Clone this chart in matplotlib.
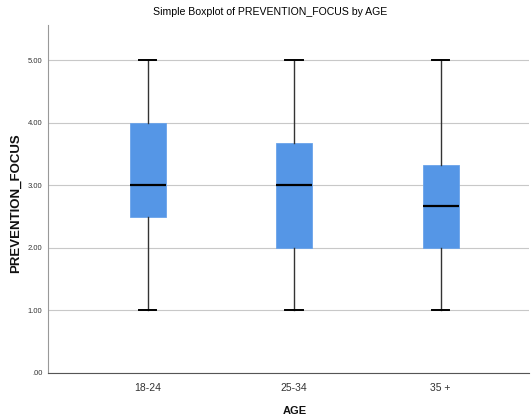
import matplotlib.pyplot as plt
from matplotlib import font_manager

# data
groups = ['18-24', '25-34', '35 +']
whislo = [1.0, 1.0, 1.0]
q1 = [2.5, 2.0, 2.0]
med = [3.0, 3.0, 2.67]
q3 = [4.0, 3.67, 3.33]
whishi = [5.0, 5.0, 5.0]
yticks = [0, 1, 2, 3, 4, 5]
ytick_labels = ['.00', '1.00', '2.00', '3.00', '4.00', '5.00']

names = {f.name for f in font_manager.fontManager.ttflist}
narrow = 'Liberation Sans Narrow' if 'Liberation Sans Narrow' in names else 'Liberation Sans'
plt.rcParams['font.family'] = [narrow, 'DejaVu Sans']

W, H = 531, 419
fig = plt.figure(figsize=(W / 100, H / 100), dpi=100)
ax = fig.add_axes([0.0904, 0.110, 0.905, 0.830])

stats = []
for i, g in enumerate(groups):
    stats.append(dict(label=g, whislo=whislo[i], q1=q1[i], med=med[i],
                      q3=q3[i], whishi=whishi[i], fliers=[]))

ax.bxp(stats, positions=range(len(groups)), widths=0.245, patch_artist=True,
       showfliers=False,
       boxprops=dict(facecolor='#5596e6', edgecolor='#6aa3ea', linewidth=0.6),
       medianprops=dict(color='black', linewidth=1.6),
       whiskerprops=dict(color='#333333', linewidth=1.0),
       capprops=dict(color='black', linewidth=1.4),
       capwidths=0.12)

ax.set_xlim(-0.68, 2.6)
ax.set_ylim(0, 5.56)
ax.set_yticks(yticks)
ax.set_yticklabels(ytick_labels, fontsize=5.5)
ax.set_xticks(range(len(groups)))
ax.set_xticklabels(groups, fontsize=7.5)
ax.tick_params(axis='both', length=0, colors='#333333')
ax.tick_params(axis='y', pad=4)
ax.tick_params(axis='x', pad=7)

ax.yaxis.grid(True, color='#c8c8c8', linewidth=0.8)
ax.set_axisbelow(True)
for s in ['top', 'right']:
    ax.spines[s].set_visible(False)
ax.spines['left'].set_color('#999999')
ax.spines['bottom'].set_color('#555555')

fig.text(270 / W, 1 - 12 / H, 'Simple Boxplot of PREVENTION_FOCUS by AGE',
         fontsize=7.6, ha='center', va='center', color='#000000')
fig.text(16 / W, 1 - 203 / H, 'PREVENTION_FOCUS', rotation=90, fontsize=9.5,
         fontweight='bold', ha='center', va='center', color='#111111',
         family=['Liberation Sans', 'DejaVu Sans'])
fig.text(295 / W, 1 - 411 / H, 'AGE', fontsize=8, fontweight='bold',
         ha='center', va='center', color='#111111')

plt.savefig('out.png', dpi=100)
